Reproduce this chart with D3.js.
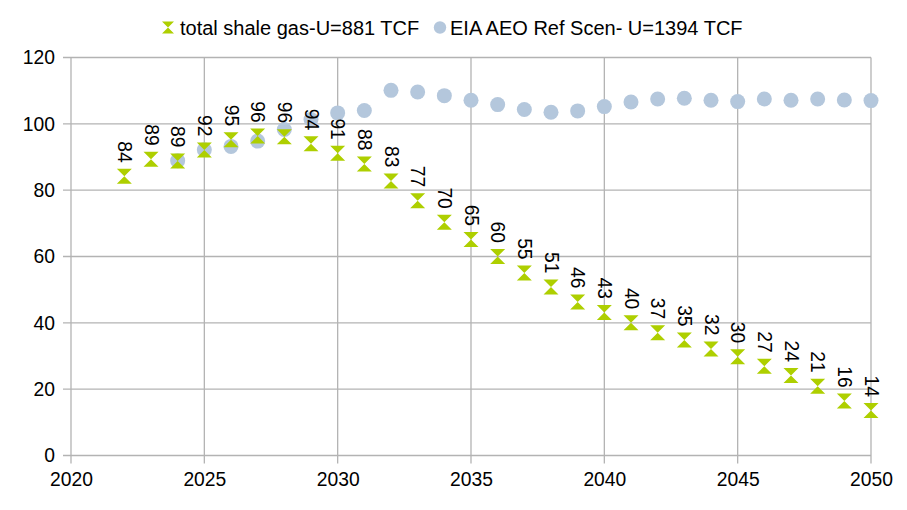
<!DOCTYPE html>
<html lang="en">
<head>
<meta charset="UTF-8">
<title>Shale gas</title>
<script src="https://d3js.org/d3.v7.min.js"></script>
<style>
    body { margin: 0; background: #fff; }
    svg { display: block; font-family: "Liberation Sans", Arial, sans-serif; }
    .grid line { stroke: #b3b3b3; stroke-width: 1.3px; }
    .tick text { fill: #000; }
</style>
</head>
<body>
<svg width="907" height="510"></svg>
<script>
// shale gas scenario, 2022-2050
const shaleYears = d3.range(2022, 2051);
const shaleValues = [84.2, 89.3, 88.8, 92.1, 95.2, 96.3, 96.1, 94.0, 91.1, 87.9, 82.8, 76.8, 70.3, 65.1,
    60.0, 55.0, 50.8, 46.3, 43.1, 40.0, 37.0, 34.8, 32.1, 29.8, 26.9, 24.1, 20.9, 16.4, 13.6];

// EIA AEO reference, 2024-2050
const eiaYears = d3.range(2024, 2051);
const eiaValues = [88.9, 92.2, 93.2, 94.8, 98.3, 101.3, 103.3, 104.0, 110.1, 109.6, 108.5, 107.1, 105.8,
    104.3, 103.5, 103.9, 105.2, 106.6, 107.5, 107.7, 107.1, 106.7, 107.5, 107.1, 107.5, 107.2, 107.0];

const xTicks = [2020, 2025, 2030, 2035, 2040, 2045, 2050];
const yTicks = [0, 20, 40, 60, 80, 100, 120];
const legendLabels = ["total shale gas-U=881 TCF", "EIA AEO Ref Scen- U=1394 TCF"];

const green = "#aecf00";
const blue = "#b4c7dc";

const svg = d3.select("svg");
const margin = { left: 71, right: 36, top: 57.5, bottom: 54.5 };
const width = 907, height = 510;

const x = d3.scaleLinear().domain([2020, 2050]).range([margin.left, width - margin.right]);
const y = d3.scaleLinear().domain([0, 120]).range([height - margin.bottom, margin.top]);

// horizontal gridlines
svg.append("g").attr("class", "grid")
    .selectAll("line").data(yTicks).enter().append("line")
    .attr("x1", margin.left - 8).attr("x2", width - margin.right)
    .attr("y1", d => y(d)).attr("y2", d => y(d));

// vertical gridlines
svg.append("g").attr("class", "grid")
    .selectAll("line").data(xTicks).enter().append("line")
    .attr("x1", d => x(d)).attr("x2", d => x(d))
    .attr("y1", margin.top).attr("y2", height - margin.bottom + 8);

// axis labels
const yAxis = svg.append("g")
    .attr("transform", `translate(${margin.left},0)`)
    .call(d3.axisLeft(y).tickValues(yTicks).tickSize(0).tickPadding(16));
yAxis.select(".domain").remove();
yAxis.selectAll("text").attr("font-size", "19.3px").attr("font-family", "Liberation Sans, Arial, sans-serif");

const xAxis = svg.append("g")
    .attr("transform", `translate(0,${height - margin.bottom})`)
    .call(d3.axisBottom(x).tickValues(xTicks).tickFormat(d3.format("d")).tickSize(0).tickPadding(17));
xAxis.select(".domain").remove();
xAxis.selectAll("text").attr("font-size", "19.3px").attr("font-family", "Liberation Sans, Arial, sans-serif");

// hourglass symbol
function hourglass(s) {
    const h = s / 2;
    return `M${-h},${-h}L${h},${-h}L0,0L${h},${h}L${-h},${h}L0,0Z`;
}

// EIA circles
svg.append("g").selectAll("circle")
    .data(eiaYears.map((yr, i) => [yr, eiaValues[i]]))
    .enter().append("circle")
    .attr("cx", d => x(d[0])).attr("cy", d => y(d[1]))
    .attr("r", 7.5).attr("fill", blue);

const shale = shaleYears.map((yr, i) => [yr, shaleValues[i]]);

// shale markers
svg.append("g").selectAll("path")
    .data(shale).enter().append("path")
    .attr("transform", d => `translate(${x(d[0])},${y(d[1])})`)
    .attr("d", hourglass(15))
    .attr("fill", green);

// rotated data labels
svg.append("g").selectAll("text")
    .data(shale).enter().append("text")
    .attr("transform", d => `translate(${x(d[0])},${y(d[1]) - 13.5}) rotate(90)`)
    .attr("text-anchor", "end")
    .attr("dominant-baseline", "central")
    .attr("font-size", "19.3px")
    .text(d => d3.format(".0f")(d[1]));

// legend
const legend = svg.append("g");
legend.append("path").attr("transform", "translate(168,27.5)").attr("d", hourglass(12)).attr("fill", green);
legend.append("text").attr("x", 180).attr("y", 34.5).attr("font-size", "20px").text(legendLabels[0]);
legend.append("circle").attr("cx", 440).attr("cy", 27.5).attr("r", 6.2).attr("fill", blue);
legend.append("text").attr("x", 450).attr("y", 34.5).attr("font-size", "20px").text(legendLabels[1]);
</script>
</body>
</html>
